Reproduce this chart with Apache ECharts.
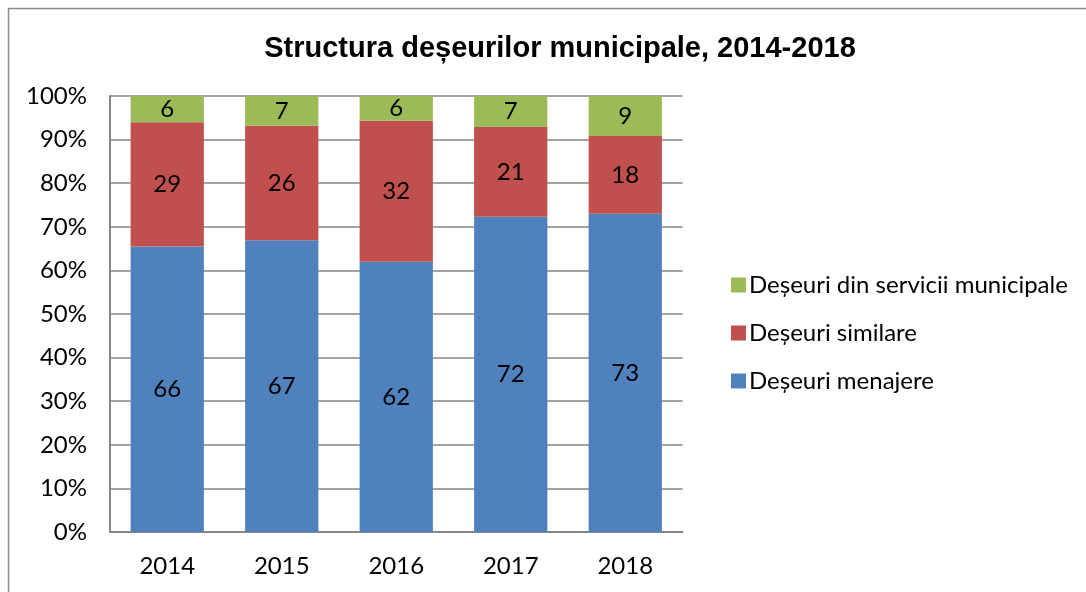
<!DOCTYPE html>
<html>
<head>
<meta charset="utf-8">
<script src="https://cdn.jsdelivr.net/npm/echarts@6/dist/echarts.min.js"></script>
<style>html,body{margin:0;padding:0;background:#fff}#c{width:1086px;height:592px}</style>
</head>
<body>
<div id="c"></div>
<script>
const categories = ['2014', '2015', '2016', '2017', '2018'];
const menajere = [65.5, 66.9, 62.0, 72.3, 73.0];
const similare = [28.5, 26.3, 32.3, 20.6, 17.8];
const servicii = [6.0, 6.8, 5.7, 7.1, 9.2];
const seriesNames = ['Deșeuri menajere', 'Deșeuri similare', 'Deșeuri din servicii municipale'];
const yTicks = [0, 10, 20, 30, 40, 50, 60, 70, 80, 90, 100];

const FONT = 'Lato, "Open Sans", sans-serif';
const chart = echarts.init(document.getElementById('c'));
const lbl = {show: true, position: 'inside', color: '#000', fontSize: 24, fontFamily: FONT,
  formatter: p => Math.round(p.value)};
function mk(name, data, color) {
  return {name, type: 'bar', stack: 't', data, barWidth: '64%',
    itemStyle: {color}, label: lbl, emphasis: {disabled: true}};
}
chart.setOption({
  animation: false,
  title: {text: 'Structura deșeurilor municipale, 2014-2018', left: 555, top: 29, textAlign: 'center',
    textStyle: {fontFamily: '"Liberation Sans", Arial, sans-serif', fontWeight: 'bold', fontSize: 29, color: '#000'}},
  graphic: [{type: 'rect', shape: {x: 8.5, y: 8.5, width: 1100, height: 600},
    style: {fill: 'none', stroke: '#8a8a8a', lineWidth: 1.5}, silent: true}],
  legend: {orient: 'vertical', left: 726, top: 268, itemGap: 24, itemWidth: 15, itemHeight: 15,
    icon: 'rect', data: seriesNames.slice().reverse(),
    textStyle: {fontFamily: FONT, fontSize: 24, color: '#000', padding: [0, 0, 0, -2]}},
  grid: {left: 110, right: 403.5, top: 96, bottom: 60},
  xAxis: {type: 'category', data: categories,
    axisLine: {lineStyle: {color: '#868686', width: 2}}, axisTick: {show: false},
    axisLabel: {fontFamily: FONT, fontSize: 24, color: '#000', margin: 22}},
  yAxis: {type: 'value', min: 0, max: 100, interval: 10,
    axisLine: {show: true, lineStyle: {color: '#868686', width: 2}}, axisTick: {show: false},
    splitLine: {lineStyle: {color: '#868686', width: 1.5}},
    axisLabel: {fontFamily: FONT, fontSize: 24, color: '#000', margin: 23,
      formatter: v => yTicks.includes(v) ? v + '%' : ''}},
  series: [mk(seriesNames[0], menajere, '#4F81BD'), mk(seriesNames[1], similare, '#C0504D'), mk(seriesNames[2], servicii, '#9BBB59')]
});
</script>
</body>
</html>
